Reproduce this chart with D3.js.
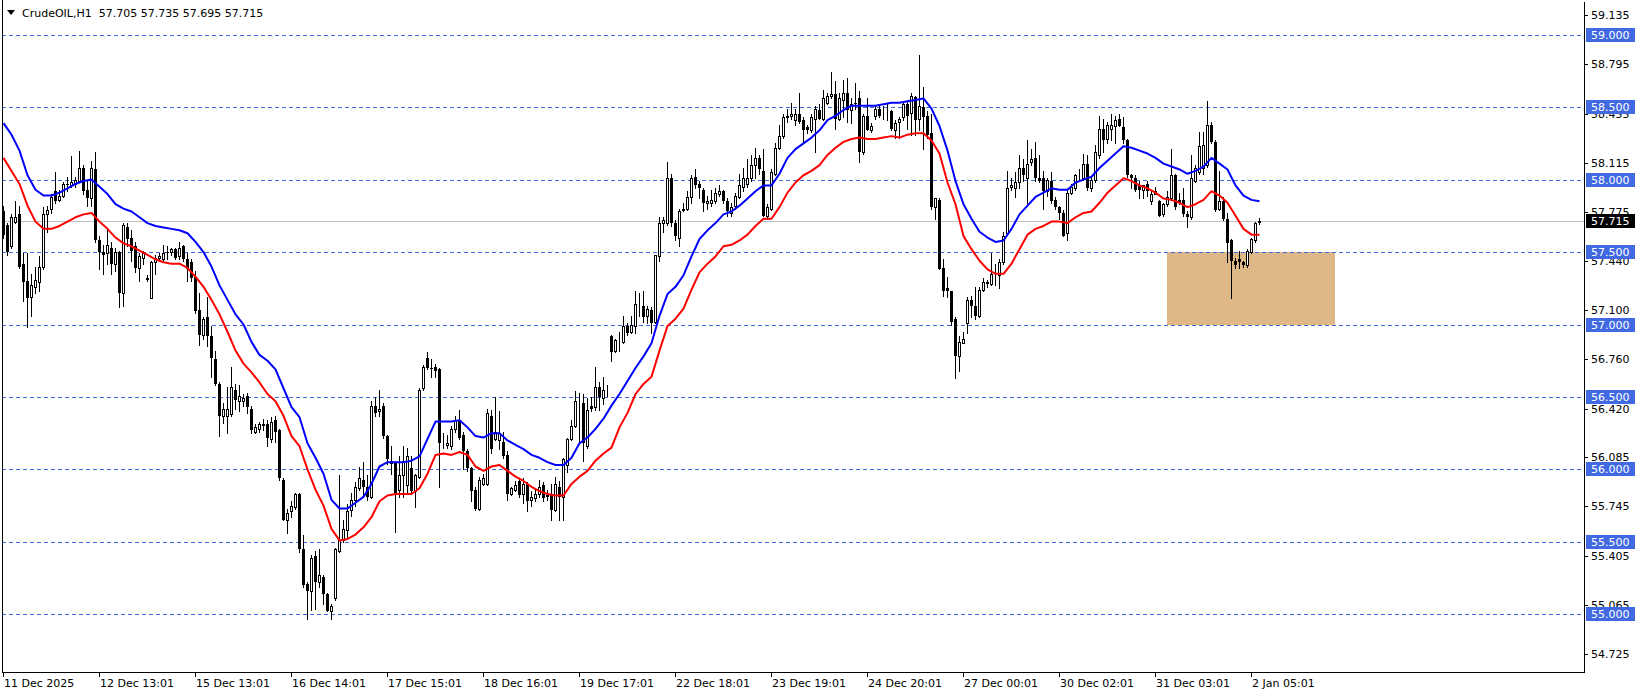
<!DOCTYPE html>
<html><head><meta charset="utf-8">
<script src="https://cdn.jsdelivr.net/npm/d3@7"></script>
<style>body{margin:0;background:#fff;overflow:hidden}svg{display:block;font-family:"DejaVu Sans",sans-serif}</style>
</head><body><svg id="c" width="1641" height="696"></svg>
<script>
const symbolTitle = "CrudeOIL,H1";
const lastQuote = ["57.705", "57.735", "57.695", "57.715"];
const currentPrice = 57.715;

// [open, high, low, close] per H1 bar
const candles = [
[57.78,57.82,57.60,57.62],[57.69,57.70,57.48,57.50],[57.54,57.76,57.53,57.74],[57.71,57.85,57.70,57.74],[57.76,57.82,57.39,57.40],
[57.42,57.49,57.16,57.29],[57.30,57.49,56.98,57.18],[57.19,57.35,57.06,57.27],[57.26,57.40,57.22,57.31],[57.29,57.47,57.23,57.40],
[57.40,57.81,57.38,57.76],[57.76,57.82,57.64,57.79],[57.80,57.90,57.77,57.88],[57.92,58.05,57.84,57.85],[57.86,57.93,57.85,57.89],
[57.89,57.98,57.88,57.97],[57.97,58.02,57.92,57.96],[57.96,58.16,57.95,57.98],[57.97,58.02,57.95,58.00],[57.99,58.20,57.98,58.08],
[58.08,58.10,57.90,57.92],[57.93,57.99,57.82,57.87],[57.87,58.13,57.82,58.08],[58.07,58.19,57.57,57.58],[57.58,57.61,57.38,57.50],
[57.50,57.55,57.35,57.48],[57.49,57.65,57.42,57.55],[57.53,57.57,57.35,57.42],[57.42,57.53,57.37,57.50],[57.50,57.51,57.12,57.22],
[57.22,57.70,57.13,57.69],[57.67,57.70,57.54,57.59],[57.60,57.65,57.44,57.51],[57.54,57.57,57.36,57.39],[57.39,57.49,57.30,57.47],
[57.46,57.51,57.42,57.49],[57.32,57.34,57.30,57.31],[57.18,57.44,57.18,57.43],[57.43,57.48,57.35,57.46],[57.46,57.49,57.44,57.47],
[57.45,57.55,57.43,57.49],[57.50,57.54,57.45,57.49],[57.50,57.53,57.48,57.52],[57.52,57.53,57.45,57.46],[57.47,57.57,57.45,57.53],
[57.54,57.55,57.44,57.45],[57.45,57.49,57.30,57.38],[57.43,57.45,57.30,57.32],[57.33,57.37,57.08,57.09],[57.10,57.22,56.86,56.93],
[56.93,57.05,56.90,57.04],[57.05,57.19,56.85,56.92],[56.92,56.99,56.64,56.77],[56.76,56.82,56.58,56.59],[56.59,56.60,56.23,56.37],
[56.37,56.46,56.32,56.42],[56.37,56.57,56.25,56.42],[56.38,56.71,56.37,56.57],[56.55,56.59,56.42,56.48],[56.47,56.58,56.40,56.51],
[56.47,56.52,56.44,56.49],[56.51,56.53,56.39,56.43],[56.42,56.44,56.25,56.27],[56.26,56.31,56.25,56.29],[56.28,56.33,56.26,56.31],
[56.31,56.35,56.27,56.30],[56.31,56.34,56.16,56.22],[56.21,56.36,56.19,56.33],[56.34,56.37,56.19,56.26],[56.27,56.28,55.93,55.94],
[55.93,55.94,55.65,55.65],[55.65,55.73,55.56,55.70],[55.71,55.78,55.67,55.75],[55.74,55.84,55.73,55.83],[55.83,55.84,55.43,55.45],
[55.45,55.55,55.19,55.20],[55.21,55.22,54.97,55.16],[55.16,55.41,55.03,55.39],[55.40,55.44,55.04,55.22],[55.22,55.45,55.19,55.27],
[55.26,55.27,55.07,55.14],[55.14,55.15,55.02,55.02],[55.02,55.07,54.97,55.06],[55.11,55.46,55.10,55.45],[55.44,55.96,55.43,55.51],
[55.51,55.65,55.50,55.59],[55.58,55.76,55.53,55.71],[55.72,55.84,55.68,55.79],[55.79,55.91,55.75,55.88],[55.87,56.02,55.86,55.94],
[55.93,56.05,55.82,55.88],[55.88,55.96,55.79,55.81],[55.81,56.47,55.80,56.44],[56.44,56.50,56.37,56.39],[56.40,56.55,56.37,56.42],
[56.44,56.46,56.22,56.23],[56.23,56.24,56.04,56.07],[56.06,56.16,55.97,56.04],[56.05,56.06,55.57,55.83],[55.86,56.09,55.81,55.96],
[55.96,56.16,55.81,56.06],[55.89,56.15,55.83,56.09],[56.01,56.09,55.84,55.85],[55.85,55.97,55.74,55.96],[55.95,56.56,55.94,56.55],
[56.56,56.72,56.55,56.71],[56.77,56.81,56.69,56.70],[56.70,56.76,56.64,56.69],[56.71,56.73,56.64,56.68],[56.69,56.70,55.88,56.18],
[56.18,56.25,56.15,56.18],[56.17,56.24,56.15,56.18],[56.16,56.30,56.14,56.28],[56.28,56.37,56.26,56.34],[56.34,56.41,56.21,56.22],
[56.24,56.26,56.00,56.13],[56.13,56.14,55.99,56.01],[56.01,56.02,55.78,55.85],[55.86,55.88,55.72,55.73],[55.73,55.95,55.72,55.93],
[55.90,55.97,55.89,55.94],[55.90,56.42,55.89,56.39],[56.37,56.41,56.11,56.14],[56.21,56.50,56.20,56.26],[56.20,56.40,56.14,56.25],
[56.19,56.26,56.08,56.09],[56.10,56.13,55.79,55.83],[55.83,55.88,55.82,55.87],[55.86,55.92,55.85,55.89],[55.92,55.94,55.81,55.82],
[55.83,55.94,55.77,55.90],[55.90,55.91,55.71,55.78],[55.79,55.85,55.75,55.81],[55.80,55.86,55.78,55.83],[55.83,55.93,55.81,55.88],
[55.89,55.91,55.78,55.80],[55.82,55.86,55.79,55.81],[55.83,55.90,55.65,55.72],[55.72,55.95,55.71,55.90],[55.88,55.92,55.65,55.81],
[55.81,56.08,55.65,56.07],[56.03,56.22,55.98,56.21],[56.21,56.34,56.20,56.30],[56.30,56.54,56.29,56.47],[56.46,56.53,56.19,56.46],
[56.46,56.52,56.06,56.18],[56.16,56.49,56.15,56.41],[56.44,56.50,56.40,56.42],[56.43,56.71,56.41,56.57],[56.57,56.60,56.41,56.50],
[56.49,56.64,56.45,56.55],[56.53,56.58,56.51,56.53],[56.92,56.93,56.75,56.81],[56.82,56.90,56.81,56.89],[56.89,56.95,56.82,56.89],
[56.88,57.06,56.87,56.99],[56.99,57.01,56.93,56.94],[56.95,57.06,56.94,57.00],[56.99,57.23,56.94,57.14],[57.13,57.22,57.06,57.13],
[57.13,57.23,57.02,57.05],[57.06,57.13,57.01,57.11],[57.10,57.12,56.94,57.01],[57.02,57.48,57.01,57.48],[57.47,57.74,57.44,57.70],
[57.70,57.74,57.64,57.72],[57.70,58.12,57.69,58.01],[58.01,58.04,57.68,57.70],[57.70,57.72,57.58,57.61],[57.60,57.80,57.54,57.78],
[57.79,57.84,57.78,57.80],[57.80,57.92,57.79,57.88],[57.88,58.03,57.84,58.01],[58.02,58.07,57.94,57.96],[57.97,57.99,57.87,57.94],
[57.93,57.94,57.78,57.84],[57.84,57.89,57.80,57.85],[57.84,57.93,57.82,57.86],[57.85,57.94,57.84,57.91],[57.90,57.96,57.89,57.92],
[57.92,57.93,57.84,57.85],[57.85,57.87,57.75,57.78],[57.77,57.84,57.75,57.81],[57.82,57.91,57.80,57.89],[57.88,58.04,57.87,57.96],
[57.95,58.08,57.92,58.01],[57.97,58.14,57.95,58.01],[58.01,58.17,57.99,58.10],[58.10,58.22,58.01,58.15],[58.15,58.17,58.04,58.07],
[58.06,58.21,57.75,57.75],[57.75,57.83,57.73,57.81],[57.80,58.07,57.79,58.05],[58.04,58.25,58.03,58.22],[58.22,58.38,58.21,58.30],
[58.30,58.45,58.29,58.43],[58.43,58.49,58.40,58.44],[58.44,58.53,58.42,58.45],[58.41,58.49,58.38,58.45],[58.45,58.60,58.39,58.40],
[58.41,58.43,58.26,58.34],[58.36,58.38,58.32,58.34],[58.34,58.45,58.33,58.43],[58.42,58.51,58.19,58.49],[58.48,58.52,58.42,58.42],
[58.42,58.62,58.41,58.56],[58.53,58.60,58.52,58.58],[58.58,58.74,58.56,58.59],[58.59,58.68,58.35,58.42],[58.42,58.60,58.41,58.56],
[58.55,58.69,58.43,58.60],[58.60,58.70,58.40,58.48],[58.48,58.56,58.39,58.52],[58.53,58.67,58.49,58.52],[58.56,58.61,58.12,58.19],
[58.19,58.45,58.18,58.44],[58.44,58.56,58.34,58.34],[58.34,58.39,58.33,58.37],[58.44,58.51,58.42,58.49],[58.49,58.52,58.43,58.44],
[58.45,58.51,58.42,58.45],[58.46,58.52,58.41,58.46],[58.47,58.48,58.34,58.35],[58.34,58.41,58.29,58.39],[58.40,58.43,58.29,58.42],
[58.43,58.53,58.41,58.52],[58.52,58.54,58.35,58.44],[58.46,58.60,58.31,58.58],[58.57,58.58,58.31,58.41],[58.42,58.86,58.34,58.51],
[58.50,58.64,58.21,58.43],[58.44,58.47,58.29,58.31],[58.32,58.45,57.80,57.81],[57.81,57.87,57.73,57.87],[57.86,57.87,57.38,57.38],
[57.39,57.45,57.20,57.23],[57.25,57.33,57.19,57.23],[57.23,57.23,57.00,57.02],[57.04,57.05,56.63,56.78],[56.78,56.92,56.68,56.88],
[56.87,56.95,56.87,56.90],[57.01,57.19,56.94,57.17],[57.17,57.20,57.05,57.13],[57.13,57.26,57.04,57.06],[57.06,57.26,57.05,57.24],
[57.24,57.32,57.23,57.29],[57.29,57.31,57.26,57.28],[57.28,57.49,57.27,57.35],[57.34,57.42,57.27,57.34],[57.34,57.45,57.25,57.43],
[57.43,57.64,57.42,57.61],[57.63,58.06,57.62,57.94],[57.95,58.01,57.93,57.96],[57.94,58.05,57.88,57.98],[57.98,58.17,57.94,58.08],
[58.08,58.14,57.99,58.03],[58.01,58.27,57.84,58.11],[58.12,58.21,58.10,58.14],[58.15,58.26,57.99,58.01],[58.01,58.17,57.98,57.99],
[58.01,58.06,57.80,57.92],[57.92,58.01,57.89,58.00],[57.99,58.05,57.84,57.85],[57.86,57.88,57.80,57.81],[57.81,57.82,57.73,57.77],
[57.77,57.79,57.61,57.61],[57.63,57.93,57.58,57.91],[57.91,57.97,57.90,57.95],[57.94,58.04,57.93,58.03],[58.03,58.07,58.00,58.03],
[58.01,58.18,58.00,58.11],[58.11,58.17,57.93,57.94],[57.94,58.02,57.92,58.00],[58.00,58.24,57.98,58.19],[58.17,58.44,58.15,58.35],
[58.35,58.42,58.19,58.27],[58.28,58.40,58.25,58.38],[58.35,58.45,58.27,58.38],[58.37,58.44,58.25,58.41],[58.42,58.45,58.37,58.37],
[58.36,58.43,58.25,58.27],[58.27,58.28,58.02,58.03],[58.03,58.04,57.94,58.01],[58.01,58.03,57.92,57.93],[57.96,57.99,57.87,57.93],
[57.93,57.96,57.87,57.96],[57.97,57.99,57.89,57.92],[57.85,57.92,57.83,57.90],[57.90,57.95,57.90,57.92],[57.85,57.86,57.75,57.75],
[57.76,57.84,57.75,57.83],[57.83,57.92,57.82,57.88],[57.87,58.21,57.86,58.03],[58.03,58.04,57.80,57.81],[57.86,57.91,57.83,57.84],
[57.86,57.94,57.75,57.76],[57.76,57.78,57.67,57.74],[57.74,58.17,57.73,58.01],[57.99,58.10,57.98,58.08],[58.05,58.33,58.04,58.23],
[58.08,58.33,58.04,58.24],[58.10,58.54,58.09,58.38],[58.38,58.40,58.25,58.26],[58.26,58.27,57.78,57.79],[57.80,58.06,57.79,57.85],
[57.85,57.88,57.72,57.73],[57.73,57.77,57.43,57.56],[57.58,57.59,57.18,57.44],[57.44,57.46,57.39,57.41],[57.45,57.51,57.39,57.43],
[57.43,57.44,57.40,57.41],[57.41,57.52,57.40,57.51],[57.50,57.60,57.49,57.59],[57.58,57.71,57.57,57.70],[57.705,57.735,57.695,57.715]
];

// moving-average lines, one reading every second bar (bars 0,2,4,...,314)
const maStep = 2;
const blueMA = [
58.39,58.31,58.20,58.03,57.93,57.89,57.89,57.91,57.94,57.97,
57.99,58.00,57.95,57.90,57.83,57.80,57.78,57.74,57.70,57.68,
57.67,57.66,57.65,57.63,57.57,57.50,57.40,57.27,57.17,57.07,
57.00,56.88,56.79,56.75,56.69,56.56,56.43,56.36,56.18,56.08,
55.97,55.79,55.73,55.73,55.77,55.81,55.90,56.02,56.05,56.05,
56.05,56.06,56.09,56.21,56.33,56.33,56.33,56.34,56.29,56.23,
56.22,56.25,56.25,56.20,56.17,56.14,56.10,56.08,56.05,56.03,
56.03,56.08,56.18,56.22,56.28,56.35,56.44,56.52,56.61,56.70,
56.78,56.87,57.06,57.21,57.26,57.34,57.47,57.59,57.65,57.70,
57.76,57.78,57.82,57.87,57.92,57.96,57.96,58.04,58.15,58.21,
58.25,58.29,58.34,58.41,58.44,58.48,58.51,58.51,58.51,58.51,
58.52,58.53,58.53,58.54,58.55,58.56,58.49,58.37,58.20,57.99,
57.83,57.73,57.64,57.60,57.57,57.58,57.66,57.76,57.82,57.88,
57.91,57.94,57.93,57.93,57.98,58.00,58.02,58.08,58.13,58.18,
58.23,58.22,58.20,58.18,58.15,58.11,58.09,58.07,58.04,58.06,
58.09,58.15,58.11,58.07,57.96,57.89,57.86,57.85
];
const redMA = [
58.15,58.06,57.97,57.82,57.71,57.66,57.66,57.68,57.71,57.74,
57.76,57.77,57.71,57.66,57.60,57.56,57.54,57.51,57.48,57.45,
57.43,57.42,57.42,57.39,57.33,57.26,57.17,57.07,56.95,56.82,
56.73,56.67,56.60,56.52,56.47,56.37,56.23,56.16,56.00,55.86,
55.75,55.59,55.51,55.52,55.55,55.60,55.67,55.78,55.82,55.83,
55.83,55.83,55.87,55.97,56.10,56.11,56.10,56.12,56.10,56.02,
55.99,56.02,56.03,55.99,55.95,55.92,55.88,55.85,55.83,55.82,
55.82,55.90,55.95,55.99,56.06,56.11,56.15,56.29,56.39,56.52,
56.59,56.64,56.82,56.99,57.04,57.11,57.24,57.36,57.42,57.47,
57.54,57.55,57.58,57.62,57.68,57.73,57.73,57.81,57.91,57.98,
58.03,58.06,58.10,58.17,58.22,58.26,58.28,58.29,58.28,58.28,
58.29,58.30,58.29,58.31,58.32,58.32,58.27,58.18,57.98,57.83,
57.61,57.52,57.44,57.38,57.35,57.35,57.42,57.52,57.62,57.66,
57.68,57.71,57.71,57.70,57.74,57.77,57.78,57.84,57.91,57.96,
58.01,57.99,57.96,57.94,57.91,57.87,57.86,57.84,57.81,57.83,
57.86,57.92,57.89,57.84,57.75,57.66,57.62,57.62
];

const levels = [59.0, 58.5, 58.0, 57.5, 57.0, 56.5, 56.0, 55.5, 55.0];
const priceTicks = ["59.135","58.795","58.455","58.115","57.775","57.440","57.100","56.760","56.420","56.085","55.745","55.405","55.065","54.725"];
const timeLabels = ["11 Dec 2025","12 Dec 13:01","15 Dec 13:01","16 Dec 14:01","17 Dec 15:01","18 Dec 16:01","19 Dec 17:01","22 Dec 18:01","23 Dec 19:01","24 Dec 20:01","27 Dec 00:01","30 Dec 02:01","31 Dec 03:01","2 Jan 05:01"];
const barsPerLabel = 24;
const zonePrices = [57.0, 57.5];
const zoneBars = [291, 333];

// ---------- drawing ----------
const W = 1641, H = 696;
const plotL = 2, plotR = 1584, plotB = 672;
const svg = d3.select("#c");
const x = d3.scaleLinear().domain([0, 1]).range([3, 7]);
const y = d3.scaleLinear().domain([55, 59]).range([614.3, 34.7]);
const levelBlue = "#4169E1";

svg.append("rect").attr("width", W).attr("height", H).attr("fill", "#fff");

// zone rectangle
svg.append("rect")
  .attr("x", x(zoneBars[0])).attr("width", x(zoneBars[1]) - x(zoneBars[0]))
  .attr("y", Math.round(y(zonePrices[1]))).attr("height", Math.round(y(zonePrices[0])) - Math.round(y(zonePrices[1])))
  .attr("fill", "#DEB887");

// current price line
svg.append("line").attr("x1", plotL).attr("x2", plotR)
  .attr("y1", Math.round(y(currentPrice)) + 0.5).attr("y2", Math.round(y(currentPrice)) + 0.5)
  .attr("stroke", "#C0C0C0").attr("stroke-width", 1);

// dashed levels
svg.append("g").selectAll("line").data(levels).join("line")
  .attr("x1", plotL).attr("x2", plotR)
  .attr("y1", d => Math.round(y(d)) + 0.5).attr("y2", d => Math.round(y(d)) + 0.5)
  .attr("stroke", levelBlue).attr("stroke-width", 1).attr("stroke-dasharray", "4,3")
  .attr("shape-rendering", "crispEdges");

// candles
const cg = svg.append("g").attr("shape-rendering", "crispEdges");
cg.selectAll("line").data(candles).join("line")
  .attr("x1", (d, i) => Math.round(x(i)) + 0.5).attr("x2", (d, i) => Math.round(x(i)) + 0.5)
  .attr("y1", d => Math.round(y(d[1]))).attr("y2", d => Math.round(y(d[2])) + 1)
  .attr("stroke", "#000").attr("stroke-width", 1);
cg.selectAll("rect").data(candles).join("rect")
  .each(function (d, i) {
    const [o, h, l, c] = d;
    const cx = Math.round(x(i));
    const top = Math.round(y(Math.max(o, c))), bot = Math.round(y(Math.min(o, c)));
    const s = d3.select(this);
    if (c >= o) {
      s.attr("x", cx - 0.5).attr("y", top + 0.5).attr("width", 2).attr("height", Math.max(bot - top, 0))
        .attr("fill", "#fff").attr("stroke", "#000").attr("stroke-width", 1);
    } else {
      s.attr("x", cx - 1).attr("y", top).attr("width", 3).attr("height", Math.max(bot - top, 1)).attr("fill", "#000");
    }
  });

// moving averages
const maLine = d3.line().x((d, k) => x(k * maStep) + 0.5).y(d => y(d));
svg.append("path").attr("d", maLine(blueMA)).attr("fill", "none").attr("stroke", "#0000FF").attr("stroke-width", 2).attr("stroke-linejoin", "round");
svg.append("path").attr("d", maLine(redMA)).attr("fill", "none").attr("stroke", "#FF0000").attr("stroke-width", 2).attr("stroke-linejoin", "round");

// frame
const fr = svg.append("g").attr("stroke", "#000").attr("stroke-width", 1).attr("shape-rendering", "crispEdges");
fr.append("line").attr("x1", plotL + 0.5).attr("x2", plotL + 0.5).attr("y1", 0).attr("y2", plotB + 1);
fr.append("line").attr("x1", plotR + 0.5).attr("x2", plotR + 0.5).attr("y1", 2).attr("y2", plotB + 1);
fr.append("line").attr("x1", plotL).attr("x2", plotR + 1).attr("y1", plotB + 0.5).attr("y2", plotB + 0.5);

// right price axis
const ra = svg.append("g").style("font-size", "11px");
ra.selectAll("line").data(priceTicks).join("line")
  .attr("x1", plotR + 1).attr("x2", plotR + 4)
  .attr("y1", d => Math.round(y(+d)) + 0.5).attr("y2", d => Math.round(y(+d)) + 0.5)
  .attr("stroke", "#000").attr("shape-rendering", "crispEdges");
ra.selectAll("text").data(priceTicks).join("text")
  .attr("x", plotR + 7).attr("y", d => y(+d)).attr("dy", "0.36em")
  .attr("fill", "#000").text(d => d);

// level labels
const ll = svg.append("g").style("font-size", "11px");
levels.forEach(v => {
  const yy = Math.round(y(v));
  ll.append("rect").attr("x", plotR + 2).attr("y", yy - 7).attr("width", 49).attr("height", 14).attr("fill", levelBlue);
  ll.append("text").attr("x", plotR + 7).attr("y", yy).attr("dy", "0.36em").attr("fill", "#fff").text(v.toFixed(3));
});
{
  const yy = Math.round(y(currentPrice));
  ll.append("rect").attr("x", plotR + 2).attr("y", yy - 7).attr("width", 49).attr("height", 14).attr("fill", "#000");
  ll.append("text").attr("x", plotR + 7).attr("y", yy).attr("dy", "0.36em").attr("fill", "#fff").text(currentPrice.toFixed(3));
}

// bottom time axis
const ba = svg.append("g").style("font-size", "11px");
ba.selectAll("line").data(timeLabels).join("line")
  .attr("x1", (d, k) => Math.round(x(k * barsPerLabel)) + 0.5).attr("x2", (d, k) => Math.round(x(k * barsPerLabel)) + 0.5)
  .attr("y1", plotB + 1).attr("y2", plotB + 5).attr("stroke", "#000").attr("shape-rendering", "crispEdges");
ba.selectAll("text").data(timeLabels).join("text")
  .attr("x", (d, k) => Math.round(x(k * barsPerLabel)) + 1).attr("y", 687)
  .attr("fill", "#000").text(d => d);

// header
svg.append("path").attr("d", "M7,10 L15,10 L11,15 Z").attr("fill", "#000");
svg.append("text").attr("x", 22).attr("y", 17).style("font-size", "11px").style("white-space", "pre")
  .attr("fill", "#000").text(symbolTitle + "  " + lastQuote.join(" "));
</script>
</body></html>
